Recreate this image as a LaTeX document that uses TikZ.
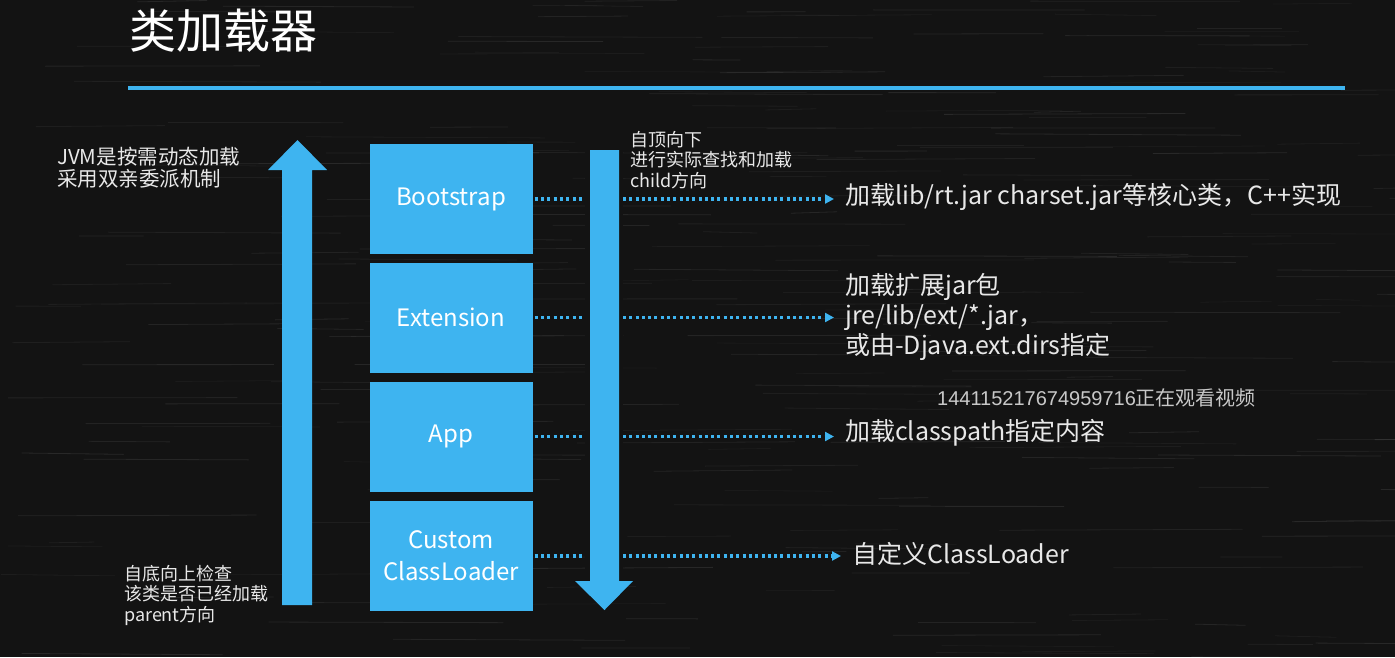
\documentclass[tikz,border=0pt]{standalone}
\usepackage{fontspec}
\setmainfont{Noto Sans CJK SC}
\newfontfamily\digitfont{Liberation Sans}
\usetikzlibrary{arrows.meta}
\definecolor{board}{RGB}{19,19,19}
\definecolor{sky}{RGB}{62,180,240}
\definecolor{chalk}{RGB}{232,232,232}
\definecolor{mark}{RGB}{200,200,200}
\begin{document}
\begin{tikzpicture}[x=1pt,y=-1pt,
  loader/.style={fill=sky, minimum width=163pt, minimum height=110pt, inner sep=0pt,
    text=white, align=center, font=\fontsize{24}{32}\selectfont},
  note/.style={anchor=west, inner sep=0pt, text=chalk, align=left},
  rightnote/.style={note, font=\fontsize{25}{30}\selectfont},
  smallnote/.style={note, font=\fontsize{18}{20.5}\selectfont},
  dotarrow/.style={sky, line width=3.2pt, dash pattern=on 3pt off 3.3pt,
    -{Triangle[length=9pt,width=9pt]}, shorten >=11pt, shorten <=2pt}
]
% chalkboard background with faint horizontal chalk smears
\fill[board] (0,0) rectangle (1395,657);
\useasboundingbox (0,0) rectangle (1395,657);
\pgfmathsetseed{11}
\foreach \i in {1,...,260}{
  \pgfmathsetmacro{\sx}{rnd*1395}
  \pgfmathsetmacro{\sy}{rnd*657}
  \pgfmathsetmacro{\sl}{40+rnd*220}
  \pgfmathsetmacro{\so}{0.03+rnd*0.06}
  \draw[white, opacity=\so, line width=0.8pt] (\sx,\sy) -- ++(\sl,{(rnd-0.5)*3});
}

% title and rule
\node[anchor=west, inner sep=0pt, text=white, font=\fontsize{47}{47}\selectfont] (title) at (129,31) {类加载器};
\coordinate (ruleL) at (128,88);
\coordinate (ruleR) at (1345,88);
\draw[sky, line width=4pt] (ruleL) -- (ruleR);

% loader boxes
\node[loader] (boot) at (451,199) {Bootstrap};
\node[loader] (ext)  at (451,317.5) {Extension};
\node[loader] (app)  at (451,436.5) {App};
\node[loader] (cust) at (451,556) {Custom\\ClassLoader};

% descriptions on the right
\node[rightnote] (dboot) at (845,197) {加载lib/rt.jar charset.jar等核心类，C++实现};
\node[rightnote] (dext)  at (845,317) {加载扩展jar包\\jre/lib/ext/*.jar，\\或由-Djava.ext.dirs指定};
\node[rightnote] (dapp)  at (845,433) {加载classpath指定内容};
\node[rightnote] (dcust) at (852,554) {自定义ClassLoader};

% dotted links from each loader to its description
\draw[dotarrow] (boot.east) -- (boot.east -| dboot.west);
\draw[dotarrow] (ext.east)  -- (ext.east -| dext.west);
\draw[dotarrow] (app.east)  -- (app.east -| dapp.west);
\draw[dotarrow] (cust.east) -- (cust.east -| dcust.west);

% upward arrow: parent direction
\fill[sky] (282,605) -- (282,170) -- (268,170) -- (297.5,140) -- (327,170)
  -- (312,170) -- (312,605) -- cycle;
% downward arrow: child direction, with a dark margin over the dotted links
\fill[board] (585,150) rectangle (623,581);
\fill[sky] (590,150) -- (619,150) -- (619,581) -- (633,581) -- (604.5,610)
  -- (575,581) -- (590,581) -- cycle;

% side notes
\node[note, font=\fontsize{20.5}{22}\selectfont] (jvm) at (57,168) {JVM是按需动态加载\\采用双亲委派机制};
\node[smallnote] (up) at (124,595) {自底向上检查\\该类是否已经加载\\parent方向};
\node[smallnote] (down) at (630,160) {自顶向下\\进行实际查找和加载\\child方向};

% viewer overlay
\node[anchor=west, inner sep=0pt, text=mark, font=\fontsize{20}{20}\selectfont] (viewer) at (937,398)
  {{\digitfont 144115217674959716}正在观看视频};
\end{tikzpicture}
\end{document}
